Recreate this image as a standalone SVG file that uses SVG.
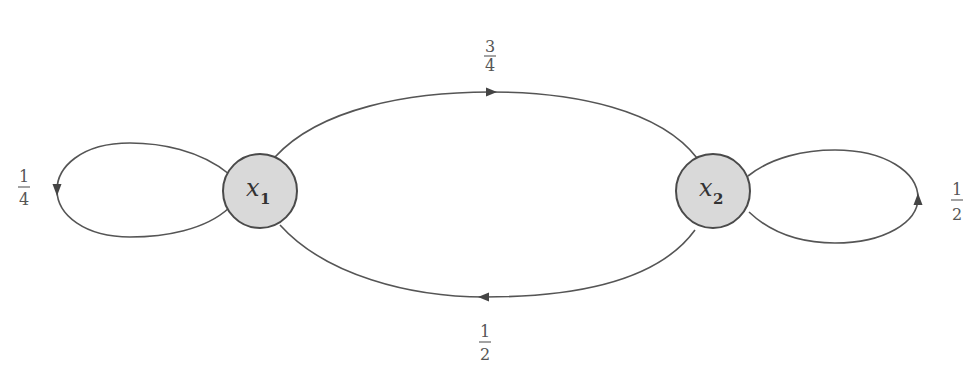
<svg xmlns="http://www.w3.org/2000/svg" width="969" height="384" viewBox="0 0 969 384">
<style>
.edge{fill:none;stroke:#555;stroke-width:1.6}
.node{fill:#d9d9d9;stroke:#4a4a4a;stroke-width:2}
.lbl{font-family:'DejaVu Serif','Liberation Serif',serif;font-style:italic;font-size:24px;fill:#333}
.sub{font-family:'DejaVu Serif','Liberation Serif',serif;font-size:15px;font-weight:bold;fill:#333}
.frac{font-family:'DejaVu Serif','Liberation Serif',serif;font-size:16px;fill:#555;text-anchor:middle}
.bar{stroke:#666;stroke-width:1.2}
.ah{fill:#444}
</style>
<rect width="969" height="384" fill="#fff"/>
<g id="connectors">
<path class="edge" d="M 275,157 C 320,108 410,92 490,92 C 575,92 660,110 697,158"/>
<polygon class="ah" points="497,92 486,87.5 486,96.5"/>
<path class="edge" d="M 280,225 C 325,275 410,297 485,297 C 565,297 655,285 695,230"/>
<polygon class="ah" points="478,297 489,292.5 489,301.5"/>
<path class="edge" d="M 229,174 C 200,150 160,143 130,143 C 80,143 57,168 57,190 C 57,215 85,237 130,237 C 165,237 205,230 229,208"/>
<polygon class="ah" points="57,196 52.5,184 61.5,184"/>
<path class="edge" d="M 748,176 C 772,157 805,150 835,150 C 885,150 918,172 918,198 C 918,222 885,243 835,243 C 800,243 770,232 749,212"/>
<polygon class="ah" points="918,193 913.5,205 922.5,205"/>
<g id="lbl-top">
<text class="frac" x="490" y="52">3</text>
<line class="bar" x1="484" y1="56" x2="496" y2="56"/>
<text class="frac" x="490" y="71">4</text>
</g>
<g id="lbl-bottom">
<text class="frac" x="485" y="337">1</text>
<line class="bar" x1="479" y1="342" x2="491" y2="342"/>
<text class="frac" x="485" y="360">2</text>
</g>
<g id="lbl-left">
<text class="frac" x="24" y="182">1</text>
<line class="bar" x1="18" y1="187" x2="30" y2="187"/>
<text class="frac" x="24" y="205">4</text>
</g>
<g id="lbl-right">
<text class="frac" x="957" y="195">1</text>
<line class="bar" x1="951" y1="200" x2="963" y2="200"/>
<text class="frac" x="957" y="220">2</text>
</g>
</g>
<g id="x1">
<circle class="node" cx="260" cy="191" r="37"/>
<text class="lbl" x="246" y="196">x</text><text class="sub" x="260" y="204">1</text>
</g>
<g id="x2">
<circle class="node" cx="713" cy="191" r="37"/>
<text class="lbl" x="699" y="196">x</text><text class="sub" x="713" y="204">2</text>
</g>
</svg>
